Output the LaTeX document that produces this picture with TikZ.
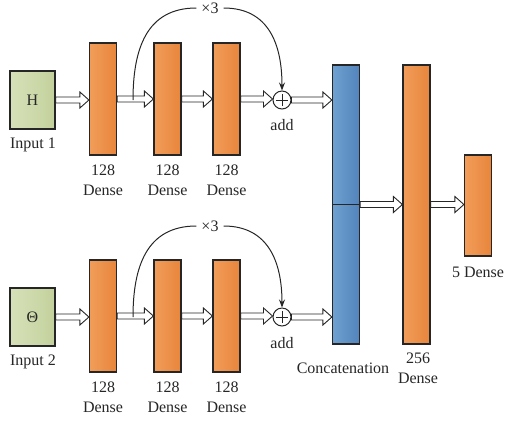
\documentclass[tikz,border=0pt]{standalone}
\usepackage{fontspec}
\setmainfont{Liberation Serif}
\usetikzlibrary{calc,arrows.meta}
\definecolor{orL}{HTML}{F19D5A}
\definecolor{orR}{HTML}{E8853B}
\definecolor{blL}{HTML}{6FA1D1}
\definecolor{blR}{HTML}{5283BB}
\definecolor{grL}{HTML}{D7E1B8}
\definecolor{grR}{HTML}{C3D19D}
\definecolor{edge}{HTML}{262626}
\tikzset{
  every node/.style={font=\fontsize{16pt}{20pt}\selectfont, text=edge},
  layer/.style={rectangle, draw=edge, line width=1.2pt, inner sep=0pt, minimum width=27pt},
  dense/.style={layer, left color=orL, right color=orR, minimum height=112pt},
  tall/.style={layer, minimum height=279pt},
  inbox/.style={layer, left color=grL, right color=grR, minimum width=45pt, minimum height=58pt},
  caption/.style={align=center, inner sep=1pt},
  addnode/.style={circle, draw=edge, line width=1pt, fill=white, minimum size=18pt, inner sep=0pt,
    path picture={
      \coordinate (pc) at (path picture bounding box.center);
      \draw[line width=1pt, edge] ($(pc)+(-6pt,0)$) -- ($(pc)+(6pt,0)$)
                                  ($(pc)+(0,-6pt)$) -- ($(pc)+(0,6pt)$);}},
  blockarrow/.style={draw=edge, line width=0.9pt, fill=white, line join=miter,
    to path={let \p1=(\tikztostart), \p2=(\tikztotarget) in
      (\x1,\y1+3pt) -- (\x2-9pt,\y1+3pt) -- (\x2-9pt,\y1+8pt) -- (\x2,\y1)
      -- (\x2-9pt,\y1-8pt) -- (\x2-9pt,\y1-3pt) -- (\x1,\y1-3pt) -- cycle}},
  looparrow/.style={draw=edge, line width=1pt, -{Stealth[length=8pt,width=6pt]}},
  times/.style={inner sep=5pt, fill=white}
}
\begin{document}
\begin{tikzpicture}[x=1pt,y=-1pt]
  \useasboundingbox (0,0) rectangle (505,424);

  % ---- branch 1 ----
  \node[inbox] (in1) at (32.5,100) {H};
  \node[dense] (d11) at (103,99) {};
  \node[dense] (d12) at (167.5,99) {};
  \node[dense] (d13) at (226.5,99) {};
  \node[addnode] (add1) at (282,100) {};
  \coordinate (k1) at (133,100);
  \node[times] (x1) at (210,8) {×3};

  \node (tin1) at (33,145) {Input 1};
  \node[caption] (c11) at (103,180) {128\\Dense};
  \node[caption] (c12) at (167.5,180) {128\\Dense};
  \node[caption] (c13) at (226.5,180) {128\\Dense};
  \node (tadd1) at (282,125) {add};

  % ---- branch 2 ----
  \node[inbox] (in2) at (32.5,317) {Θ};
  \node[dense] (d21) at (103,316) {};
  \node[dense] (d22) at (167.5,316) {};
  \node[dense] (d23) at (226.5,316) {};
  \node[addnode] (add2) at (282,317) {};
  \coordinate (k2) at (133,317);
  \node[times] (x2) at (210,226) {×3};

  \node (tin2) at (33,362) {Input 2};
  \node[caption] (c21) at (103,397) {128\\Dense};
  \node[caption] (c22) at (167.5,397) {128\\Dense};
  \node[caption] (c23) at (226.5,397) {128\\Dense};
  \node (tadd2) at (282,343) {add};

  % ---- merge and head ----
  \node[tall, left color=blL, right color=blR] (cat) at (346,204.5) {};
  \draw[draw=edge, line width=1.2pt] (cat.west) -- (cat.east);
  \node[tall, left color=orL, right color=orR] (d256) at (416.5,204.5) {};
  \node[layer, left color=orL, right color=orR, minimum height=101pt] (d5) at (478,205.5) {};

  \node (tcat) at (343,368) {Concatenation};
  \node[caption] (c256) at (418,368) {256\\Dense};
  \node (td5) at (478,272) {5 Dense};

  % ---- block arrows ----
  \foreach \s/\t in {in1/d11, d11/d12, d12/d13, d13/add1, add1/cat,
                     in2/d21, d21/d22, d22/d23, d23/add2, add2/cat,
                     cat/d256, d256/d5}
    \draw[blockarrow] (\s.east) to (\t.west);

  % ---- repeat loops ----
  \draw[draw=edge, line width=1pt] (k1) to[out=90,in=180,looseness=1.15] (x1);
  \draw[looparrow] (x1) to[out=0,in=90,looseness=1.15] (add1.north);
  \draw[draw=edge, line width=1pt] (k2) to[out=90,in=180,looseness=1.15] (x2);
  \draw[looparrow] (x2) to[out=0,in=90,looseness=1.15] (add2.north);
\end{tikzpicture}
\end{document}
